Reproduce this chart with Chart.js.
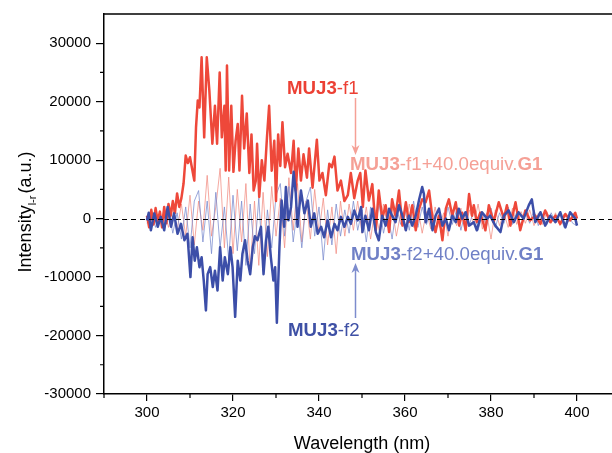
<!DOCTYPE html>
<html><head><meta charset="utf-8">
<script src="https://cdn.jsdelivr.net/npm/chart.js@4/dist/chart.umd.min.js"></script>
<style>html,body{margin:0;padding:0;overflow:hidden;background:#fff;width:612px;height:453px}canvas{display:block}</style>
</head><body>
<canvas id="c" width="640" height="453"></canvas>
<script>
// ---- data ----
const f1Wavelength = [300.0,300.5,301.0,301.5,302.0,302.5,303.0,303.5,304.0,304.5,305.0,305.5,306.0,306.5,307.0,307.5,308.0,308.5,309.0,309.5,310.0,310.5,311.0,311.4,311.8,312.2,312.7,313.3,313.9,314.5,315.2,315.8,316.3,316.9,317.4,318.0,318.3,318.6,319.1,319.6,320.1,320.6,321.1,321.5,322.1,322.6,323.2,323.8,324.3,324.8,325.3,325.6,326.1,326.7,327.3,327.9,328.4,329.0,329.6,330.0,330.5,331.0,331.5,332.1,332.7,333.5,334.1,334.6,335.2,335.8,336.4,337.2,337.7,338.5,339.5,340.1,340.8,341.6,342.4,343.0,343.6,344.3,345.1,345.9,346.7,347.4,348.2,349.0,349.6,350.2,350.8,351.6,352.4,353.2,353.9,354.7,355.5,356.3,357.0,357.8,358.6,359.4,360.2,360.9,361.7,362.5,363.3,364.0,364.8,365.6,366.4,367.1,367.9,368.7,369.5,370.2,371.0,371.8,372.6,373.3,374.1,374.9,375.6,376.0,376.7,377.5,378.7,379.5,380.6,381.8,383.0,383.7,384.5,385.7,386.8,388.0,389.1,390.3,391.5,392.6,393.8,395.0,396.1,397.3,398.4,399.6,400.0];
const f1Intensity = [500,-1500,1500,-1000,1800,-500,1200,-1500,2000,-800,2500,500,3000,1000,4300,2000,3500,6000,10800,9500,10500,8500,6500,15600,20200,19000,27600,13900,27600,21900,12800,19300,12800,25000,13900,19300,8240,26200,8240,19300,8000,13300,16200,8240,21000,12000,18000,7800,14400,4800,6500,12800,3700,10000,6500,13900,19300,8200,13300,3000,14400,9000,16500,8800,11100,7800,13300,4800,12000,6500,11000,7000,12000,5300,13500,6500,7800,4000,9400,8800,10600,4800,6500,3000,4000,7800,3500,6500,7800,2000,8240,3100,5900,-2000,4800,0,2300,-2300,3300,500,4800,-1200,2800,-600,2300,-2000,1700,3300,2800,4800,0,-2300,500,-3700,1700,3300,500,2800,-1200,1000,-2000,4200,500,2300,-600,1000,-2000,2300,-600,2800,0,2300,-1200,2800,-2000,1400,-300,500,-900,1400,-600,500,-900,800,-300,1000,0];

const f2Wavelength = [300.0,300.4,300.9,301.7,302.5,303.2,304.0,304.8,305.6,306.3,307.1,307.9,308.7,309.4,310.1,310.6,311.1,311.6,312.2,312.7,313.2,313.7,314.1,314.7,315.3,315.8,316.4,317.0,317.6,318.1,318.8,319.4,319.9,320.5,321.1,321.7,322.2,322.8,323.4,324.0,324.6,325.1,325.7,326.5,327.1,327.7,328.2,328.8,329.4,329.8,330.2,330.8,331.3,331.9,332.3,332.9,333.5,334.1,334.6,335.0,335.8,336.6,337.4,338.1,338.9,339.7,340.5,341.2,342.0,342.8,343.6,344.3,345.1,345.9,346.7,347.4,348.2,349.0,349.8,350.1,350.8,351.6,352.4,353.2,353.9,354.7,355.5,356.3,357.0,357.8,358.6,359.4,360.2,360.9,361.7,362.5,363.3,364.0,364.4,364.8,365.6,366.4,367.1,367.9,368.7,369.5,370.2,371.0,371.8,372.5,373.3,374.1,374.9,376.0,376.7,377.9,379.1,379.8,381.0,382.2,383.0,384.1,385.3,386.4,387.6,388.8,389.5,390.3,391.5,392.6,393.8,395.0,396.1,397.3,398.4,399.6,400.0];
const f2Intensity = [-300,1000,-2000,900,-1400,300,-2000,2000,-1400,900,-2600,-900,-3700,-2600,-10000,-3200,-7200,-4900,-8300,-6600,-10600,-15700,-9500,-8300,-11700,-8900,-12300,-4900,-10600,-6600,-9500,-4900,-8300,-16800,-7200,-10600,-6000,-3700,-7200,-9500,-4900,-3000,-3700,-1400,-9500,-3700,-1400,-6600,-10600,-8300,-17800,-4900,3100,-1400,5400,-300,2000,8000,4300,-1400,4800,900,3100,-1400,900,-2600,-1400,-3200,-300,-3200,-900,-2000,300,-1400,300,-900,1400,-300,2000,-2300,500,-2000,1700,-2300,-3700,500,-1200,1700,500,-600,2300,500,-2000,500,-1200,500,3300,5400,4200,-600,1700,-2000,500,1700,-1200,0,-2000,500,-600,1700,0,1100,-1200,-600,-2000,1100,0,500,-1200,-2300,500,1400,-600,1100,0,2300,3300,-600,1100,-1200,500,-600,1100,-1500,1100,0,-1200];

const g1Wavelength = [300,301,302,303,304,305,306,307,308,309,310,311,312,313,314,315,316,317,318,319,320,321,322,323,324,325,326,327,328,329,330,331,332,333,334,335,336,337,338,339,340,341,342,343,344,345,346,347,348,349,350,351,352,353,354,355,356,357,358,359,360,361,362,363,364,365,366,367,368,369,370,371,372,373,374,375,376,377,378,379,380,381,382,383,384,385,386,387,388,389,390,391,392,393,394,395,396,397,398,399,400];
const f1G1Intensity = [500,-1000,1200,-800,1500,-1500,1800,-2000,2500,-3000,4000,-4500,3000,-2000,7400,-3000,2000,8600,-5000,7100,-6000,5000,-4000,6000,-9000,3000,-8000,4500,-6500,5500,-3000,3500,-5000,7000,-2000,6000,-4000,3000,-3500,5000,-2500,3500,-4500,2000,-6000,3000,-3000,2500,-2000,3000,-2500,2000,-3500,1500,-2000,2500,-1500,2000,-3000,1000,-2000,2500,-1500,1800,-2500,1200,-1800,2000,-1500,1000,-3000,1500,-1200,1800,-2000,1500,-1000,2500,-1800,1000,-3500,1500,-1200,1000,-1500,1800,-1000,1200,-800,1500,-1200,900,-1000,1200,-800,1000,-1200,800,-600,700,-500];
const f2G1Intensity = [-800,1000,-1500,800,-2000,1500,-2500,1000,-3500,2000,-5000,3000,4800,-4000,3000,-6000,4500,-5000,2000,-7000,4000,-5500,3000,-8000,2500,-6000,3500,-9000,1500,-5000,4000,6000,-3000,5500,-4000,2000,-5000,3000,5400,-3000,2000,-7100,1500,-4500,2500,-3000,1500,-2500,3000,-2000,1500,-4000,2000,-1500,2500,-2500,1000,-3500,2000,-1000,1500,-2000,3000,-1500,2000,-1000,1500,-2500,1000,-1500,2000,-1000,1500,-2000,1200,-1000,1500,-2000,800,-1200,1800,-1500,1000,-800,2000,-1000,1200,-1500,900,-800,1500,-1200,800,-1000,1000,-700,800,-1500,600,-800,-1200];

const xTickValues = [300,320,340,360,380,400];
const xMinorValues = [290,310,330,350,370,390,410];
const yTickValues = [-30000,-20000,-10000,0,10000,20000,30000];
const yMinorValues = [-25000,-15000,-5000,5000,15000,25000];
const seriesNames = ['MUJ3-f1','MUJ3-f1+40.0equiv.G1','MUJ3-f2','MUJ3-f2+40.0equiv.G1'];

const FONT = '"Liberation Sans", Arial, sans-serif';
const toXY = (xs, ys) => xs.map((x, i) => ({x, y: ys[i]}));

// annotation labels
const annotations = [
  {segs: [['MUJ3', true], ['-f1', false]], color: 'rgb(236,64,52)', x: 287, y: 94},
  {segs: [['MUJ3', true], ['-f1+40.0equiv.', false], ['G1', true]], color: 'rgb(245,160,150)', x: 350, y: 170},
  {segs: [['MUJ3', true], ['-f2+40.0equiv.', false], ['G1', true]], color: 'rgb(112,128,198)', x: 351, y: 260},
  {segs: [['MUJ3', true], ['-f2', false]], color: 'rgb(62,80,165)', x: 288, y: 336}
];
const arrows = [
  {x: 355.5, y1: 98, y2: 155, color: 'rgb(245,160,150)'},
  {x: 355.5, y1: 318, y2: 263, color: 'rgb(125,140,205)'}
];

const decor = {
  id: 'decor',
  beforeDatasetsDraw(chart) {
    const {ctx, chartArea: a} = chart;
    ctx.save();
    ctx.strokeStyle = '#000';
    ctx.lineWidth = 1.5;
    ctx.beginPath();
    ctx.moveTo(a.left, a.top); ctx.lineTo(a.right, a.top); ctx.lineTo(a.right, a.bottom);
    ctx.stroke();
    ctx.restore();
  },
  afterDatasetsDraw(chart) {
    const {ctx, chartArea: a, scales: {y}} = chart;
    ctx.save();
    const y0 = Math.round(y.getPixelForValue(0)) + 0.5;
    ctx.strokeStyle = '#000';
    ctx.lineWidth = 1.2;
    ctx.setLineDash([5, 4]);
    ctx.beginPath(); ctx.moveTo(a.left, y0); ctx.lineTo(a.right, y0); ctx.stroke();
    ctx.setLineDash([]);
    ctx.restore();
  },
  afterDraw(chart) {
    const {ctx, chartArea: a, scales: {x, y}} = chart;
    ctx.save();
    ctx.strokeStyle = '#000';
    ctx.lineWidth = 1.2;
    ctx.beginPath();
    xMinorValues.forEach(v => { const px = x.getPixelForValue(v); ctx.moveTo(px, a.bottom); ctx.lineTo(px, a.bottom + 4); });
    yMinorValues.forEach(v => { const py = y.getPixelForValue(v); ctx.moveTo(a.left - 4, py); ctx.lineTo(a.left, py); });
    ctx.stroke();

    ctx.textBaseline = 'alphabetic';
    annotations.forEach(an => {
      let cx = an.x;
      ctx.fillStyle = an.color;
      an.segs.forEach(([t, b]) => {
        ctx.font = (b ? 'bold ' : '') + '18.7px ' + FONT;
        ctx.fillText(t, cx, an.y);
        cx += ctx.measureText(t).width;
      });
    });
    arrows.forEach(ar => {
      ctx.strokeStyle = ar.color; ctx.fillStyle = ar.color; ctx.lineWidth = 1.5;
      const dir = ar.y2 > ar.y1 ? 1 : -1;
      ctx.beginPath(); ctx.moveTo(ar.x, ar.y1); ctx.lineTo(ar.x, ar.y2 - dir * 6); ctx.stroke();
      ctx.beginPath();
      ctx.moveTo(ar.x, ar.y2);
      ctx.lineTo(ar.x - 4, ar.y2 - dir * 10);
      ctx.lineTo(ar.x, ar.y2 - dir * 7);
      ctx.lineTo(ar.x + 4, ar.y2 - dir * 10);
      ctx.closePath(); ctx.fill();
    });

    // y axis title with subscript
    ctx.translate(31, 212);
    ctx.rotate(-Math.PI / 2);
    ctx.fillStyle = '#000';
    const parts = [['Intensity', 18, 0], ['l-r', 11, 5], ['(a.u.)', 18, 0]];
    let total = 0;
    parts.forEach(p => { ctx.font = p[1] + 'px ' + FONT; total += ctx.measureText(p[0]).width; });
    total += 2;
    let cx = -total / 2;
    parts.forEach((p, i) => {
      ctx.font = p[1] + 'px ' + FONT;
      ctx.fillText(p[0], cx, p[2]);
      cx += ctx.measureText(p[0]).width + (i === 1 ? 2 : 0);
    });
    ctx.restore();
  }
};

new Chart(document.getElementById('c'), {
  type: 'line',
  data: {
    datasets: [
      {label: seriesNames[1], data: toXY(g1Wavelength, f1G1Intensity), borderColor: 'rgba(242,140,130,0.75)', borderWidth: 1, order: 4},
      {label: seriesNames[3], data: toXY(g1Wavelength, f2G1Intensity), borderColor: 'rgba(120,138,205,0.75)', borderWidth: 1, order: 3},
      {label: seriesNames[0], data: toXY(f1Wavelength, f1Intensity), borderColor: 'rgb(238,72,58)', borderWidth: 2.5, order: 2},
      {label: seriesNames[2], data: toXY(f2Wavelength, f2Intensity), borderColor: 'rgb(60,78,168)', borderWidth: 2.5, order: 1}
    ]
  },
  options: {
    responsive: false,
    devicePixelRatio: 1,
    animation: false,
    parsing: false,
    layout: {padding: {top: 13, right: 20, left: 0, bottom: 0}},
    elements: {point: {radius: 0}, line: {tension: 0, borderJoinStyle: 'round'}},
    plugins: {legend: {display: false}, tooltip: {enabled: false}},
    scales: {
      x: {
        type: 'linear', min: 290, max: 410,
        afterBuildTicks: s => { s.ticks = xTickValues.map(v => ({value: v})); },
        afterFit: s => { s.height = 59; },
        grid: {drawOnChartArea: false, drawTicks: true, tickLength: 7, color: '#000', lineWidth: 1.2},
        border: {display: true, color: '#000', width: 1.5},
        ticks: {color: '#000', font: {family: FONT, size: 15}, padding: 3, maxRotation: 0, autoSkip: false, callback: v => String(v)},
        title: {display: true, text: 'Wavelength (nm)', color: '#000', font: {family: FONT, size: 18}, padding: {top: 4, bottom: -2}}
      },
      y: {
        type: 'linear', min: -30000, max: 35000,
        afterBuildTicks: s => { s.ticks = yTickValues.map(v => ({value: v})); },
        afterFit: s => { s.width = 104; },
        grid: {drawOnChartArea: false, drawTicks: true, tickLength: 8, color: '#000', lineWidth: 1.2},
        border: {display: true, color: '#000', width: 1.5},
        ticks: {color: '#000', font: {family: FONT, size: 15}, padding: 5, autoSkip: false, callback: v => String(v)}
      }
    }
  },
  plugins: [decor]
});
</script></body></html>
